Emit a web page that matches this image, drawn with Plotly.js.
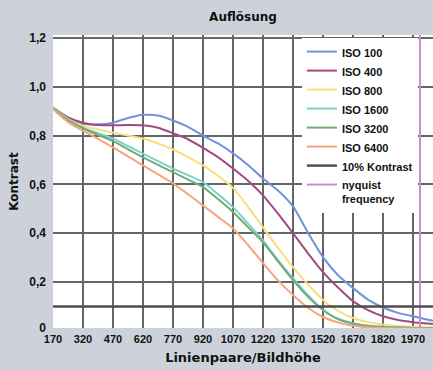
<!DOCTYPE html>
<html>
<head>
<meta charset="utf-8">
<script src="https://cdn.plot.ly/plotly-3.0.1.min.js"></script>
<style>html,body{margin:0;padding:0;background:#cdd2da;}</style>
</head>
<body>
<div id="chart" style="width:433px;height:370px;"></div>
<script>
// Linienpaare/Bildhöhe sample positions
var lp = [170,245,320,395,470,545,620,695,770,845,920,995,1070,1145,1220,1295,1370,1445,1520,1595,1670,1745,1820,1895,1970,2045,2070];

var iso100  = [0.915,0.872,0.849,0.846,0.853,0.872,0.885,0.882,0.862,0.836,0.800,0.768,0.727,0.680,0.624,0.575,0.510,0.402,0.302,0.228,0.176,0.128,0.096,0.074,0.060,0.046,0.042];
var iso400  = [0.915,0.875,0.853,0.843,0.842,0.843,0.842,0.832,0.810,0.785,0.750,0.712,0.665,0.615,0.555,0.480,0.400,0.318,0.241,0.178,0.122,0.085,0.060,0.045,0.036,0.030,0.028];
var iso800  = [0.915,0.868,0.840,0.825,0.812,0.800,0.788,0.768,0.743,0.712,0.678,0.635,0.586,0.508,0.424,0.340,0.261,0.190,0.127,0.082,0.053,0.036,0.026,0.020,0.017,0.015,0.015];
var iso1600 = [0.915,0.865,0.833,0.810,0.788,0.757,0.726,0.695,0.665,0.638,0.610,0.560,0.507,0.440,0.371,0.290,0.216,0.146,0.086,0.050,0.032,0.022,0.017,0.015,0.013,0.012,0.012];
var iso3200 = [0.912,0.862,0.830,0.803,0.777,0.744,0.711,0.680,0.650,0.620,0.589,0.540,0.487,0.425,0.363,0.285,0.208,0.140,0.086,0.048,0.029,0.020,0.016,0.014,0.012,0.011,0.011];
var iso6400 = [0.908,0.855,0.820,0.787,0.752,0.715,0.678,0.641,0.604,0.560,0.514,0.467,0.420,0.352,0.278,0.207,0.147,0.095,0.057,0.035,0.021,0.015,0.012,0.010,0.010,0.009,0.009];

var kontrastX = [170, 2070];
var kontrastY = [0.1, 0.1];
var nyquistX = [2005, 2005];
var nyquistY = [0, 1.25];

var seriesNames = ['ISO 100','ISO 400','ISO 800','ISO 1600','ISO 3200','ISO 6400'];
var seriesData = [iso100, iso400, iso800, iso1600, iso3200, iso6400];
var seriesColors = ['#6f93dc','#a24a80','#f6df7c','#78d4c8','#74aa76','#f7a47c'];

var xTicks = [170,320,470,620,770,920,1070,1220,1370,1520,1670,1820,1970];
var xGrid = [320,470,620,770,920,1070,1220,1370,1520,1670,1820,1970];
var yTickVals = [0.012,0.2,0.4,0.6,0.8,1.0,1.2];
var yTickText = ['0','0,2','0,4','0,6','0,8','1,0','1,2'];
var yGrid = [0.2,0.4,0.6,0.8,1.0,1.2];

var X_RANGE = [170, 2070];
var Y_RANGE = [0.012, 1.212];

var FONT = 'Liberation Sans, Arial, sans-serif';
var TFONT = 'DejaVu Sans, Liberation Sans, sans-serif';

var traces = [];
for (var i = 0; i < seriesNames.length; i++) {
  traces.push({
    x: lp, y: seriesData[i], name: seriesNames[i], type: 'scatter', mode: 'lines',
    line: {color: seriesColors[i], width: 2, shape: 'spline', smoothing: 0.6},
    hoverinfo: 'skip'
  });
}
// the 10% line lives on the grid axes (same ranges) so that the grid subplot is drawn
traces.push({x: kontrastX, y: kontrastY, name: '10% Kontrast', type: 'scatter', mode: 'lines',
  xaxis: 'x2', yaxis: 'y2',
  line: {color: '#4e4e4e', width: 2.5}, hoverinfo: 'skip'});
traces.push({x: nyquistX, y: nyquistY, name: 'nyquist<br>frequency', type: 'scatter', mode: 'lines',
  line: {color: '#c88fd4', width: 2}, hoverinfo: 'skip'});

var layout = {
  width: 433, height: 370,
  paper_bgcolor: '#cdd2da', plot_bgcolor: '#ffffff',
  margin: {l: 53, r: 0, t: 35, b: 42, pad: 0},
  font: {family: FONT, color: '#111', size: 11, weight: 'bold'},
  title: {text: 'Auflösung', xref: 'paper', x: 0.5, xanchor: 'center',
          yref: 'container', y: 0.954, yanchor: 'middle',
          font: {family: TFONT, size: 12, weight: 'bold', color: '#111'}},
  xaxis: {
    range: X_RANGE, tickmode: 'array', tickvals: xTicks,
    ticks: '', ticklen: 0, showline: false, zeroline: false, showgrid: false,
    ticklabelstandoff: 3,
    tickfont: {family: FONT, size: 11, weight: 'bold', color: '#111'},
    title: {text: 'Linienpaare/Bildhöhe', standoff: 8,
            font: {family: TFONT, size: 13, weight: 'bold', color: '#111'}},
    fixedrange: true
  },
  yaxis: {
    range: Y_RANGE, tickmode: 'array', tickvals: yTickVals, ticktext: yTickText,
    ticks: '', showline: false, zeroline: false, showgrid: false,
    ticklabelstandoff: 6,
    tickfont: {family: FONT, size: 12, weight: 'bold', color: '#111'},
    title: {text: 'Kontrast', standoff: 8,
            font: {family: TFONT, size: 12, weight: 'bold', color: '#111'}},
    fixedrange: true
  },
  xaxis2: {
    overlaying: 'x', anchor: 'y2', range: X_RANGE, tickmode: 'array', tickvals: xGrid,
    showticklabels: false, ticks: '', showline: false, zeroline: false,
    showgrid: true, gridcolor: '#666666', gridwidth: 2, fixedrange: true
  },
  yaxis2: {
    overlaying: 'y', anchor: 'x2', range: Y_RANGE, tickmode: 'array', tickvals: yGrid,
    showticklabels: false, ticks: '', showline: false, zeroline: false,
    showgrid: true, gridcolor: '#666666', gridwidth: 2, fixedrange: true
  },
  showlegend: true,
  legend: {
    x: 0.655, xanchor: 'left', y: 0.99, yanchor: 'top',
    bgcolor: '#ffffff', borderwidth: 0, valign: 'top',
    font: {family: FONT, size: 11, weight: 'bold', color: '#111'},
    tracegroupgap: 0, itemwidth: 30, entrywidth: 72, entrywidthmode: 'pixels'
  }
};

Plotly.newPlot('chart', traces, layout, {displayModeBar: false, staticPlot: true});
</script>
</body>
</html>
